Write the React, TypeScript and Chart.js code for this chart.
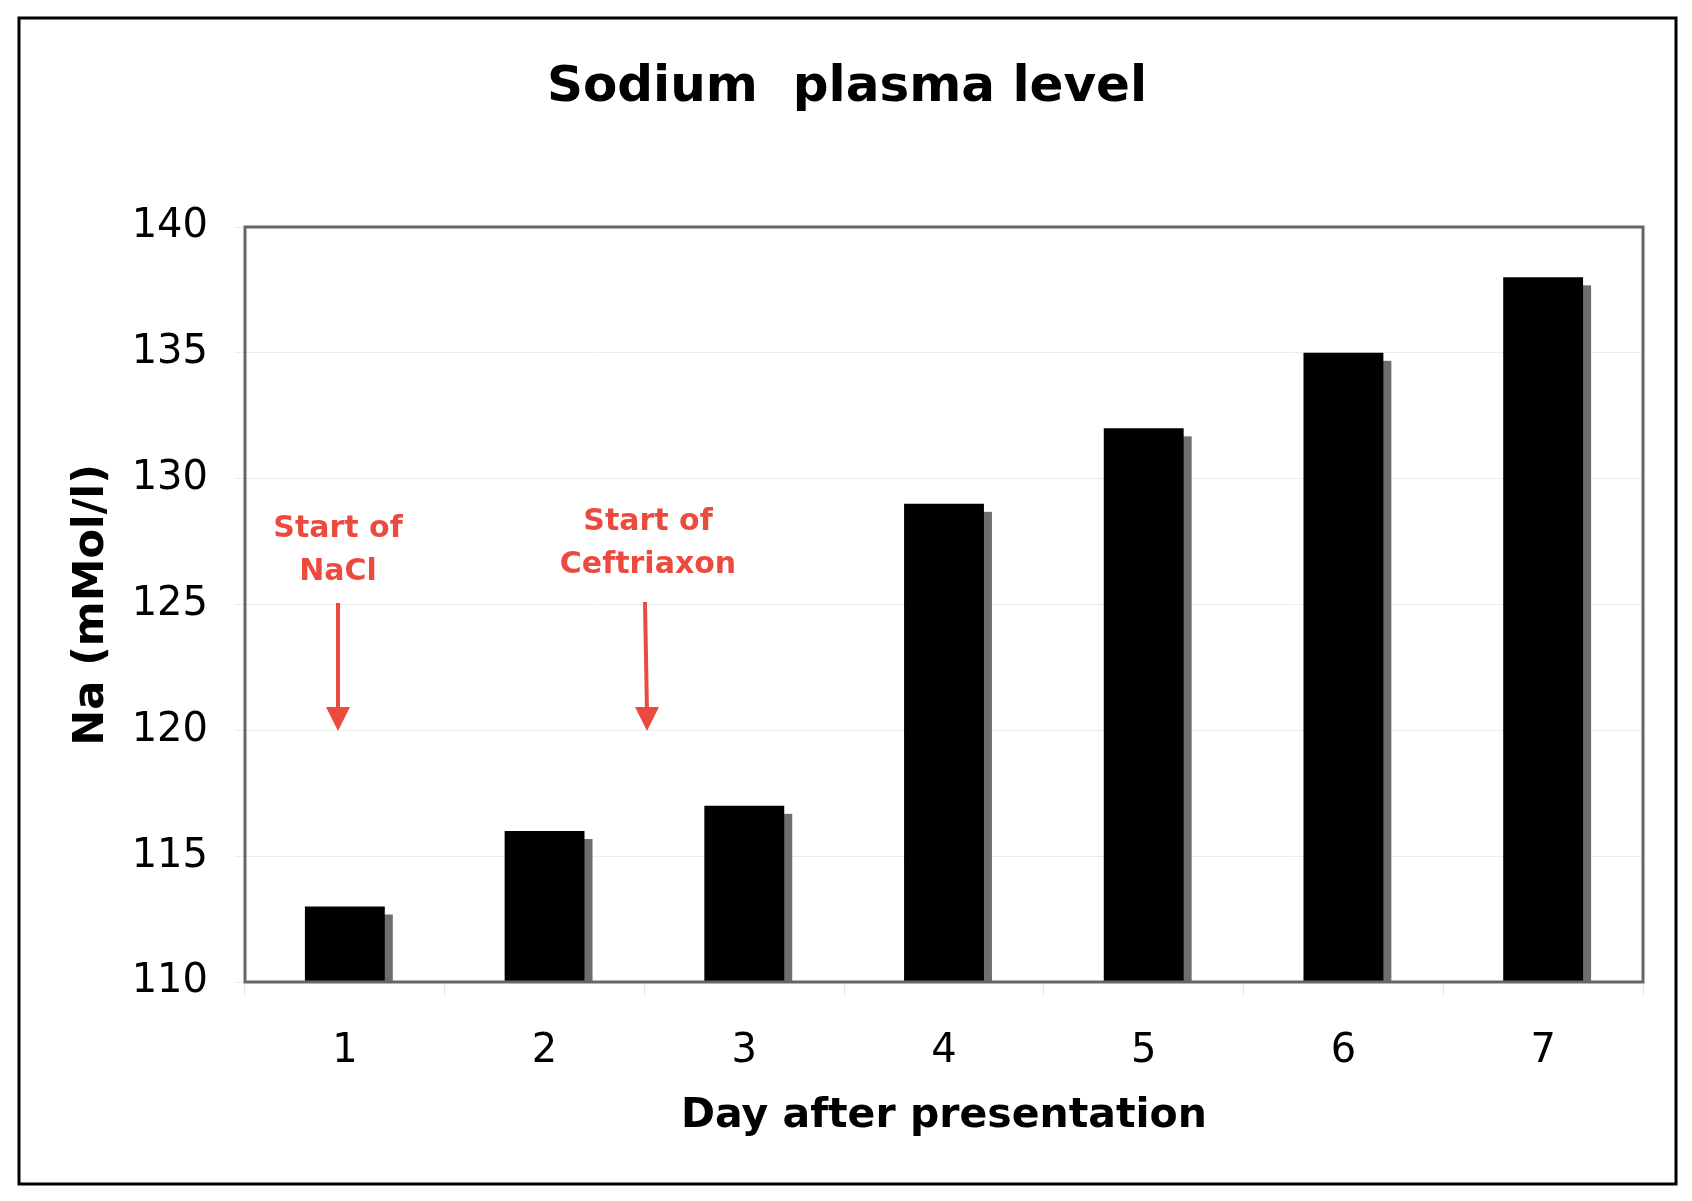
import React, { useEffect, useRef } from "react";
import { Chart, registerables } from "chart.js";
Chart.register(...registerables);

const days = ["1", "2", "3", "4", "5", "6", "7"];
const sodium = [113, 116, 117, 129, 132, 135, 138];
const yMin = 110, yMax = 140, yStep = 5;
const FONT = "'DejaVu Sans', Verdana, sans-serif";
const RED = "#ec4a3f";

const decor = {
  id: "decor",
  beforeDatasetsDraw(chart: any) {
    const ctx = chart.ctx, a = chart.chartArea;
    const meta = chart.getDatasetMeta(0);
    ctx.save();
    ctx.fillStyle = "#6e6e6e";
    meta.data.forEach((b: any) => {
      const w = b.width;
      ctx.fillRect(b.x - w / 2 + 8, b.y + 8, w, a.bottom - b.y - 8);
    });
    ctx.restore();
  },
  afterDraw(chart: any) {
    const ctx = chart.ctx, a = chart.chartArea;
    ctx.save();
    ctx.strokeStyle = "#666";
    ctx.lineWidth = 3;
    ctx.strokeRect(a.left, a.top, a.right - a.left, a.bottom - a.top);
    ctx.strokeStyle = "#000";
    ctx.lineWidth = 3;
    ctx.strokeRect(19, 18, 1657, 1166);
    ctx.fillStyle = "#000";
    ctx.textAlign = "center";
    ctx.textBaseline = "middle";
    ctx.font = `bold 50px ${FONT}`;
    ctx.fillText("Sodium  plasma level", 847, 88);
    ctx.font = `bold 41px ${FONT}`;
    ctx.fillText("Day after presentation", 944, 1116);
    ctx.save();
    ctx.translate(92, 605);
    ctx.rotate(-Math.PI / 2);
    ctx.font = `bold 43px ${FONT}`;
    ctx.fillText("Na (mMol/l)", 0, 0);
    ctx.restore();
    ctx.fillStyle = RED;
    ctx.font = `bold 30px ${FONT}`;
    ctx.fillText("Start of", 338, 529);
    ctx.fillText("NaCl", 338, 572);
    ctx.fillText("Start of", 648, 522);
    ctx.fillText("Ceftriaxon", 648, 565);
    const arrow = (x1: number, y1: number, x2: number, y2: number) => {
      ctx.strokeStyle = RED;
      ctx.lineWidth = 4;
      ctx.beginPath();
      ctx.moveTo(x1, y1);
      ctx.lineTo(x2, y2 - 18);
      ctx.stroke();
      ctx.beginPath();
      ctx.moveTo(x2, y2);
      ctx.lineTo(x2 - 12, y2 - 24);
      ctx.lineTo(x2 + 12, y2 - 24);
      ctx.closePath();
      ctx.fill();
    };
    arrow(338, 603, 338, 731);
    arrow(645, 602, 647, 731);
    ctx.restore();
  },
};

export default function App() {
  const ref = useRef<HTMLCanvasElement>(null);
  useEffect(() => {
    const chart = new Chart(ref.current!, {
      type: "bar",
      data: {
        labels: days,
        datasets: [{ data: sodium, backgroundColor: "#000", categoryPercentage: 0.8, barPercentage: 0.5 }],
      },
      options: {
        animation: false,
        responsive: false,
        layout: { padding: { top: 227, right: 49, left: 0, bottom: 0 } },
        plugins: {
          legend: { display: false },
          tooltip: { enabled: false },
          title: { display: false },
        },
        scales: {
          x: {
            afterFit: (s: any) => { s.height = 219; },
            grid: { offset: true, drawOnChartArea: false, color: "#e6e6e6", tickLength: 14 },
            border: { display: false },
            ticks: { color: "#000", padding: 32, font: { family: FONT, size: 40 } },
          },
          y: {
            min: yMin, max: yMax,
            afterFit: (s: any) => { s.width = 245; },
            grid: { color: "#ececec", tickLength: 10 },
            border: { display: false },
            ticks: { stepSize: yStep, color: "#000", padding: 27, font: { family: FONT, size: 40 } },
          },
        },
      },
      plugins: [decor],
    } as any);
    return () => chart.destroy();
  }, []);
  return (
    <div style={{ position: "absolute", left: 0, top: 0, background: "#fff" }}>
      <canvas ref={ref} width={1692} height={1201} style={{ display: "block" }} />
    </div>
  );
}
